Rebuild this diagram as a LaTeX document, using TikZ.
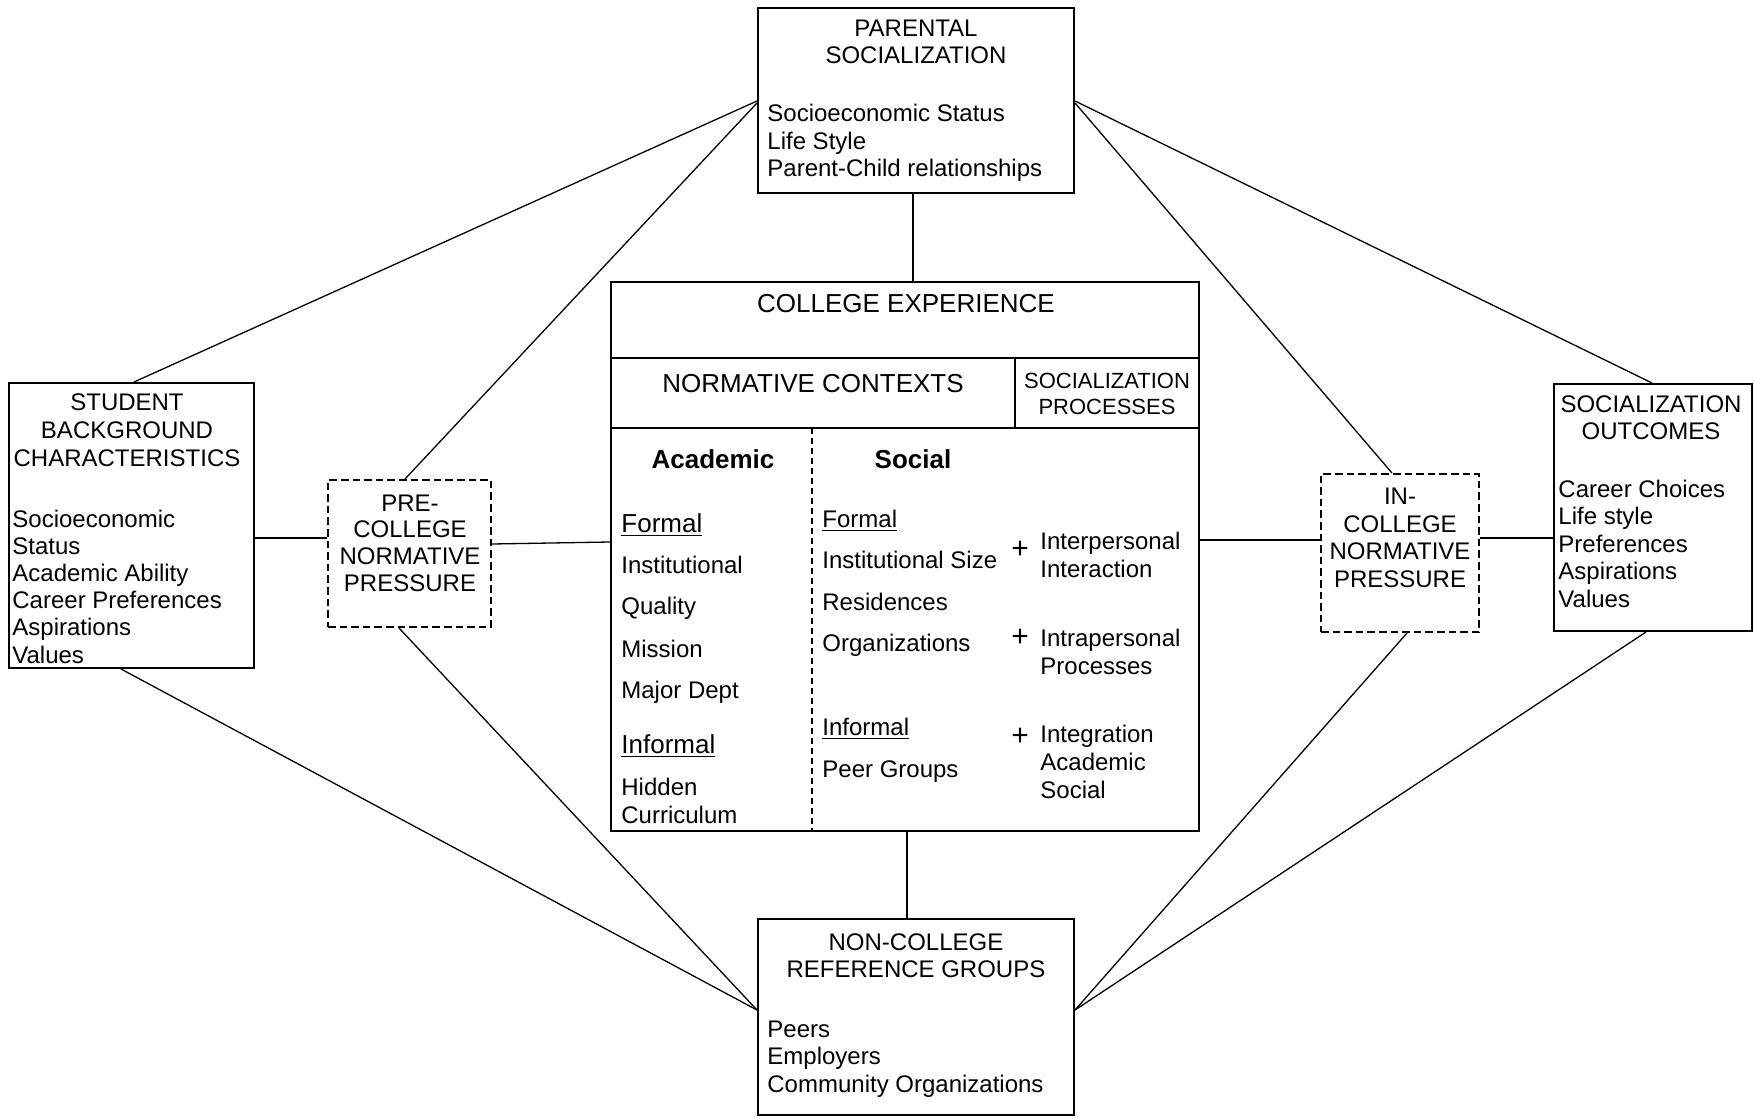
\documentclass[tikz,border=0pt]{standalone}
\usepackage{fontspec}
\setmainfont{Liberation Sans}
\usetikzlibrary{fit}
\begin{document}
\begin{tikzpicture}[x=0.5pt,y=-0.5pt,
  box/.style={draw, line width=1pt, inner sep=0pt},
  dbox/.style={draw, line width=1pt, inner sep=0pt, dash pattern=on 3.8pt off 2pt},
  conn/.style={line width=0.65pt},
  inner/.style={line width=1pt},
  txt/.style={inner sep=0pt, font=\fontsize{12}{13.8}\selectfont},
  big/.style={inner sep=0pt, font=\fontsize{13}{15}\selectfont},
  hd/.style={txt, align=center, anchor=base},
  lst/.style={txt, align=left, anchor=base west},
  itm/.style={txt, anchor=base west},
  plus/.style={inner sep=0pt, font=\fontsize{15}{15}\selectfont},
]
\useasboundingbox (0,0) rectangle (1754,1118);
% boxes
\node[box, fit={(758,8) (1074,193)}] (par) {};
\node[box, fit={(9,383) (254,668)}] (stud) {};
\node[dbox, fit={(328,480) (491,627)}] (pre) {};
\node[box, fit={(611,282) (1199,831)}] (col) {};
\node[dbox, fit={(1321,474) (1479,632)}] (inc) {};
\node[box, fit={(1554,384) (1752,631)}] (out) {};
\node[box, fit={(758,919) (1074,1115)}] (non) {};
% college inner structure
\draw[inner] (col.west |- 0,358) -- (col.east |- 0,358);
\draw[inner] (col.west |- 0,428) -- (col.east |- 0,428);
\draw[inner] (1015,358) -- (1015,428);
\draw[line width=0.6pt, dash pattern=on 3pt off 2pt] (812,428) -- (col.south -| 812,0);
% texts (anchor base = baseline of the last line)
\node[hd] (parT) at (916,64) {PARENTAL\\SOCIALIZATION};
\node[lst] (parL) at (767,177) {Socioeconomic Status\\Life Style\\Parent-Child relationships};
\node[hd] (studT) at (127,466) {STUDENT\\BACKGROUND\\CHARACTERISTICS};
\node[lst, font=\fontsize{12}{13.6}\selectfont] (studL) at (12,663) {Socioeconomic\\Status\\Academic Ability\\Career Preferences\\Aspirations\\Values};
\node[hd, font=\fontsize{12}{13.3}\selectfont] (preT) at (410,591) {PRE-\\COLLEGE\\NORMATIVE\\PRESSURE};
\node[hd, font=\fontsize{12}{13.7}\selectfont] (incT) at (1400,587) {IN-\\COLLEGE\\NORMATIVE\\PRESSURE};
\node[hd, font=\fontsize{12}{13.3}\selectfont] (outT) at (1651,439) {SOCIALIZATION\\OUTCOMES};
\node[lst, font=\fontsize{12}{13.7}\selectfont] (outL) at (1558,607) {Career Choices\\Life style\\Preferences\\Aspirations\\Values};
\node[hd, font=\fontsize{12}{13.5}\selectfont] (nonT) at (916,977) {NON-COLLEGE\\REFERENCE GROUPS};
\node[lst, font=\fontsize{12}{13.7}\selectfont] (nonL) at (767,1092) {Peers\\Employers\\Community Organizations};
% college texts
\node[big, anchor=base] (colT) at (906,312) {COLLEGE EXPERIENCE};
\node[big, anchor=base] (normT) at (813,392) {NORMATIVE CONTEXTS};
\node[inner sep=0pt, align=center, anchor=base, font=\fontsize{11}{13}\selectfont] (procT) at (1107,414) {SOCIALIZATION\\PROCESSES};
\node[big, anchor=base, font=\fontsize{13}{15}\selectfont\bfseries] (acadH) at (713,468) {Academic};
\node[big, anchor=base, font=\fontsize{13}{15}\selectfont\bfseries] (socH) at (913,468) {Social};
% academic column
\node[big, anchor=base west] (aF) at (621,532) {\underline{Formal}};
\node[itm] (a1) at (621,573) {Institutional};
\node[itm] (a2) at (621,614) {Quality};
\node[itm] (a3) at (621,657) {Mission};
\node[itm] (a4) at (621,698) {Major Dept};
\node[big, anchor=base west] (aI) at (621,753) {\underline{Informal}};
\node[lst] (a5) at (621,823) {Hidden\\Curriculum};
% social column
\node[itm] (sF) at (822,527) {\underline{Formal}};
\node[itm] (s1) at (822,568) {Institutional Size};
\node[itm] (s2) at (822,610) {Residences};
\node[itm] (s3) at (822,651) {Organizations};
\node[itm] (sI) at (822,735) {\underline{Informal}};
\node[itm] (s4) at (822,777) {Peer Groups};
% processes
\node[plus] (p1) at (1020,550) {+};
\node[plus] (p2) at (1020,638) {+};
\node[plus] (p3) at (1020,737) {+};
\node[lst] (q1) at (1040,577) {Interpersonal\\Interaction};
\node[lst] (q2) at (1040,674) {Intrapersonal\\Processes};
\node[lst] (q3) at (1040,798) {Integration\\Academic\\Social};
% connectors
\draw[conn] (par.south -| 913,0) -- (col.north -| 913,0);
\draw[conn] (col.south -| 907,0) -- (non.north -| 907,0);
\draw[conn] (par.west |- 0,101) -- (stud.north -| 134,0);
\draw[conn] (par.west |- 0,103) -- (pre.north -| 405,0);
\draw[conn] (par.east |- 0,101) -- (out.north -| 1652,0);
\draw[conn] (par.east |- 0,103) -- (inc.north -| 1392,0);
\draw[conn] (stud.south -| 121,0) -- (non.west |- 0,1010);
\draw[conn] (pre.south -| 399,0) -- (non.west |- 0,1010);
\draw[conn] (inc.south -| 1407,0) -- (non.east |- 0,1010);
\draw[conn] (out.south -| 1646,0) -- (non.east |- 0,1010);
\draw[conn] (stud.east |- 0,538) -- (pre.west |- 0,538);
\draw[conn] (pre.east |- 0,544) -- (col.west |- 0,542);
\draw[conn] (col.east |- 0,540) -- (inc.west |- 0,540);
\draw[conn] (inc.east |- 0,538) -- (out.west |- 0,538);
\end{tikzpicture}
\end{document}
